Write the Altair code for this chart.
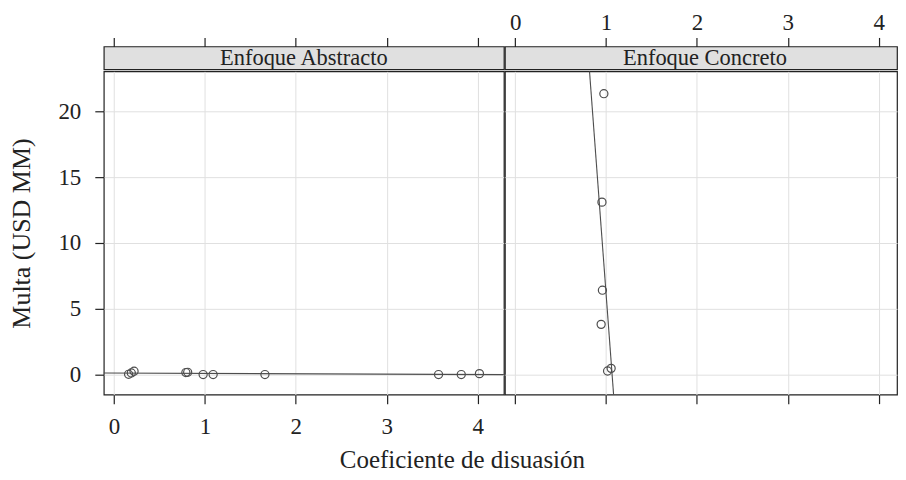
import altair as alt
import pandas as pd

# ---- data ----
panels = ["Enfoque Abstracto", "Enfoque Concreto"]

coef_abs = [0.16, 0.19, 0.22, 0.79, 0.81, 0.98, 1.09, 1.66, 3.57, 3.82, 4.02]
multa_abs = [0.00, 0.10, 0.23, 0.13, 0.15, -0.02, -0.02, -0.02, -0.02, -0.02, 0.05]

coef_con = [0.976, 0.955, 0.960, 0.946, 1.017, 1.056]
multa_con = [21.35, 13.10, 6.40, 3.80, 0.25, 0.45]

x_ticks = [0, 1, 2, 3, 4]
y_ticks = [0, 5, 10, 15, 20]
y_domain = [-1.55, 23.05]

x_title = "Coeficiente de disuasión"
y_title = "Multa (USD MM)"

# ---- style / layout ----
FONT = "Liberation Serif"
INK = "#222222"
GRID = "#e0e0e0"
STRIP = "#e0e0e0"
PT = "#4d4d4d"
W_L, W_R, H, SH = 401, 393, 324, 23
X_MIN, X_MAX_L = -0.113, 4.289
X_MAX_R = X_MIN + (X_MAX_L - X_MIN) * W_R / W_L  # same px-per-unit, right side cut like the original

df_abs = pd.DataFrame({"coef": coef_abs, "multa": multa_abs})
df_con = pd.DataFrame({"coef": coef_con, "multa": multa_con})

ys = alt.Scale(domain=y_domain, nice=False, zero=False)


def plot_panel(df, left, width, xmax):
    xs = alt.Scale(domain=[X_MIN, xmax], nice=False, zero=False)
    xa = alt.Axis(values=x_ticks, orient="bottom", grid=True, gridColor=GRID,
                  labels=left, tickSize=9, labelPadding=12, domain=False,
                  labelFlush=False)
    if left:
        ya = alt.Axis(values=y_ticks, orient="left", grid=True, gridColor=GRID,
                      tickSize=9, labelPadding=14, domain=False, titlePadding=23,
                      labelFlush=False)
        yenc = alt.Y("multa:Q", scale=ys, axis=ya, title=y_title)
    else:
        ya = alt.Axis(values=y_ticks, orient="left", grid=True, gridColor=GRID,
                      labels=False, ticks=False, domain=False)
        yenc = alt.Y("multa:Q", scale=ys, axis=ya, title=None)
    xenc = alt.X("coef:Q", scale=xs, axis=xa, title=None)

    pts = alt.Chart(df).mark_point(shape="circle", filled=False, size=66,
                                   stroke=PT, strokeWidth=1.2, opacity=1).encode(x=xenc, y=yenc)
    line = alt.Chart(df).transform_regression(
        "coef", "multa", extent=[X_MIN - 0.3, X_MAX_L + 0.3]
    ).mark_line(color=PT, strokeWidth=1.1, clip=True).encode(x=xenc, y=yenc)
    return alt.layer(pts, line).properties(
        width=width, height=H,
        view=alt.ViewBackground(fill="white", stroke=INK, strokeWidth=1.2),
    )


def strip_panel(df, label, left, width, xmax):
    xs = alt.Scale(domain=[X_MIN, xmax], nice=False, zero=False)
    xa = alt.Axis(values=x_ticks, orient="top", grid=False, tickSize=9,
                  labelPadding=3, domain=False, labelFlush=False,
                  labelColor="#ffffff" if left else INK)
    ghost = alt.Chart(df).mark_point(opacity=0).encode(
        x=alt.X("coef:Q", scale=xs, axis=xa, title=None))
    txt = alt.Chart(pd.DataFrame({"panel": [label]})).mark_text(
        font=FONT, fontSize=22.5, color=INK, align="center", baseline="middle"
    ).encode(text="panel:N", x=alt.value(W_L / 2), y=alt.value(SH / 2))
    return alt.layer(ghost, txt).properties(
        width=width, height=SH,
        view=alt.ViewBackground(fill=STRIP, stroke=INK, strokeWidth=1.2),
    )


left_col = alt.vconcat(strip_panel(df_abs, panels[0], True, W_L, X_MAX_L),
                       plot_panel(df_abs, True, W_L, X_MAX_L), spacing=0)
right_col = alt.vconcat(strip_panel(df_con, panels[1], False, W_R, X_MAX_R),
                        plot_panel(df_con, False, W_R, X_MAX_R), spacing=0)

chart = alt.hconcat(left_col, right_col, spacing=-1).properties(
    padding={"left": 0, "top": 2, "right": 0, "bottom": 0},
    title=alt.TitleParams(x_title, orient="bottom", anchor="start", align="center",
                          dx=455, offset=9, font=FONT, fontSize=25, fontWeight="normal",
                          color=INK),
).configure_axis(
    labelFont=FONT, titleFont=FONT, labelFontSize=23, titleFontSize=26,
    labelColor=INK, titleColor=INK, tickColor=INK, titleFontWeight="normal",
    tickWidth=1.2,
).configure_view(stroke=INK)

chart.save("out.html", embed_options={"renderer": "svg", "actions": False})
